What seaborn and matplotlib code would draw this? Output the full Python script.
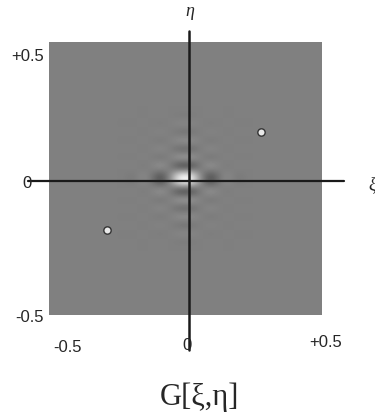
import numpy as np
import matplotlib
matplotlib.use("Agg")
import matplotlib.pyplot as plt
import seaborn as sns

sns.set_style("white")
plt.rcParams['font.family'] = ['Liberation Sans', 'DejaVu Sans']

step = 1.0 / 64
x_profile = [1.0, 0.92, 0.68, 0.32, 0.0, -0.22, -0.32, -0.22, -0.08, 0.03, 0.05, 0.02,
             -0.03, -0.04, -0.02, 0.0, 0.0]
y_profile = [1.0, 0.7, 0.05, -0.32, -0.08, 0.16, 0.0, -0.14, 0.0, 0.1, 0.0, -0.07,
             0.0, 0.05, 0.0, -0.03, 0.0]

# the two point sources
pts_x = [0.276, -0.288]
pts_y = [0.172, -0.187]

tick_pos = [-0.5, 0.0, 0.5]
tick_lab = ["-0.5", "0", "+0.5"]
title = "G[ξ,η]"

n_half = 32
def full(profile):
    p = list(profile) + [0.0] * (n_half + 1 - len(profile))
    return np.array(p[:0:-1] + p)

fx = full(x_profile)
fy = full(y_profile)
field = np.outer(fy, fx)

W, H = 375, 414
fig = plt.figure(figsize=(W / 100, H / 100), dpi=100)
ax = fig.add_axes([49 / W, 1 - 316 / H, 273 / W, 273 / H])
ext = 0.5 + step / 2
ax.imshow(field, cmap="gray", vmin=-1, vmax=1, origin="lower",
          extent=[-ext, ext, -ext, ext], interpolation="bicubic")
ax.set_xlim(-0.5, 0.5)
ax.set_ylim(-0.5, 0.5)
ax.axis("off")

# coordinate axes
lc = "#1a1a1a"
ax.plot([-0.577, 0.58], [-0.009, -0.009], color=lc, lw=1.6, clip_on=False, zorder=3)
ax.plot([0.012, 0.012], [0.54, -0.63], color=lc, lw=1.8, clip_on=False, zorder=3)

sns.scatterplot(x=pts_x, y=pts_y, ax=ax, s=28, color="#e8e8e8",
                edgecolor="#333333", linewidth=1.0, zorder=4, legend=False)

def ftext(x, y, s, **kw):
    fig.text(x / W, 1 - y / H, s, ha="center", va="center", **kw)

fs = 12
ftext(28, 57, tick_lab[2], fontsize=fs)
ftext(29, 318, tick_lab[0], fontsize=fs)
ftext(27, 184, tick_lab[1], fontsize=fs)
ftext(68, 348, tick_lab[0], fontsize=fs)
ftext(187, 346, tick_lab[1], fontsize=fs)
ftext(326, 343, tick_lab[2], fontsize=fs)

ftext(190, 12, "η", fontsize=13, family=["Liberation Serif", "DejaVu Serif"], style="italic")
ftext(372, 185, "ξ", fontsize=13, family=["Liberation Serif", "DejaVu Serif"], style="italic")
ftext(199, 397, title, fontsize=22, family=["Liberation Serif", "DejaVu Serif"])

fig.savefig("out.png", dpi=100)
